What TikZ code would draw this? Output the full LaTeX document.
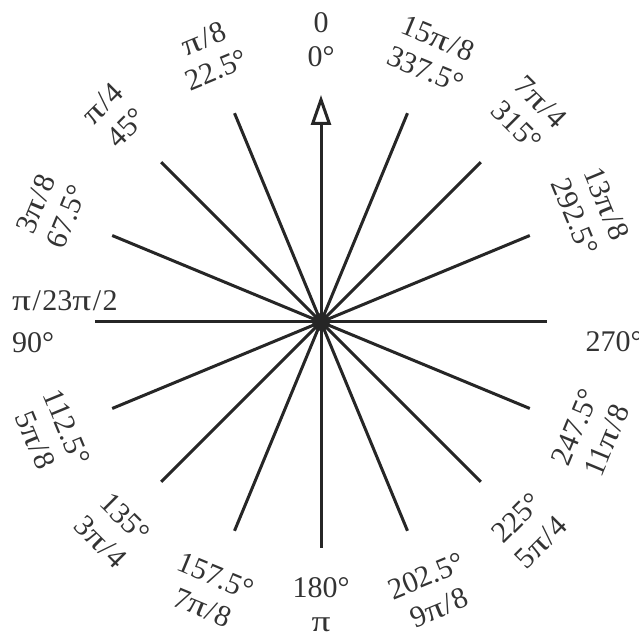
\documentclass[tikz,border=0pt]{standalone}
\usepackage{fontspec}
\usepackage{graphicx}
\setmainfont{Liberation Serif}
\usetikzlibrary{arrows.meta}
\newcommand\PI{\scalebox{1.25}[1]{π}}
\newcommand\SL{\kern1.5pt/\kern1.5pt}
\begin{document}
\begin{tikzpicture}[x=1pt,y=1pt,
  spoke/.style={line width=3pt, draw=black!85},
  lbl/.style={font=\fontsize{30}{34}\selectfont, text=black!80, align=center, inner sep=0pt},
]
\useasboundingbox (-321,-322) rectangle (317,322);
\coordinate (c) at (0,0);
\foreach \i in {1,...,15} {
  \coordinate (e\i) at ({90+22.5*\i}:226);
  \draw[spoke] (c) -- (e\i);
}
\coordinate (e0) at (90:227);
\draw[spoke, -{Triangle[open,length=30pt,width=20pt,line width=3pt]}] (c) -- (e0);
\fill[black!85] (c) circle (9);
% labels
\node[lbl] (l0) at (90:282) {0\\0°};
\node[lbl, rotate=22.5] (l1) at (112.5:290) {\PI\SL8\\22.5°};
\node[lbl, rotate=45] (l2) at (135:292) {\PI\SL4\\45°};
\node[lbl, rotate=67.5] (l3) at (157.5:292) {3\PI\SL8\\67.5°};
\node[lbl, anchor=west, align=left] (l4) at (-309,0) {\PI\SL23\PI\SL2\\[8pt]90°};
\node[lbl, rotate=-67.5] (l5) at (202.5:292) {112.5°\\5\PI\SL8};
\node[lbl, rotate=-45] (l6) at (225:294) {135°\\3\PI\SL4};
\node[lbl, rotate=-22.5] (l7) at (247.5:292) {157.5°\\7\PI\SL8};
\node[lbl] (l8) at (270:283) {180°\\\PI};
\node[lbl, rotate=22.5] (l9) at (292.5:292) {202.5°\\9\PI\SL8};
\node[lbl, rotate=45] (l10) at (315:294) {225°\\5\PI\SL4};
\node[lbl, rotate=67.5] (l11) at (337.5:292) {247.5°\\11\PI\SL8};
\node[lbl] (l12) at (293,-20) {270°};
\node[lbl, rotate=-67.5] (l13) at (22.5:292) {13\PI\SL8\\292.5°};
\node[lbl, rotate=-45] (l14) at (45:294) {7\PI\SL4\\315°};
\node[lbl, rotate=-22.5] (l15) at (67.5:290) {15\PI\SL8\\337.5°};
\end{tikzpicture}
\end{document}
